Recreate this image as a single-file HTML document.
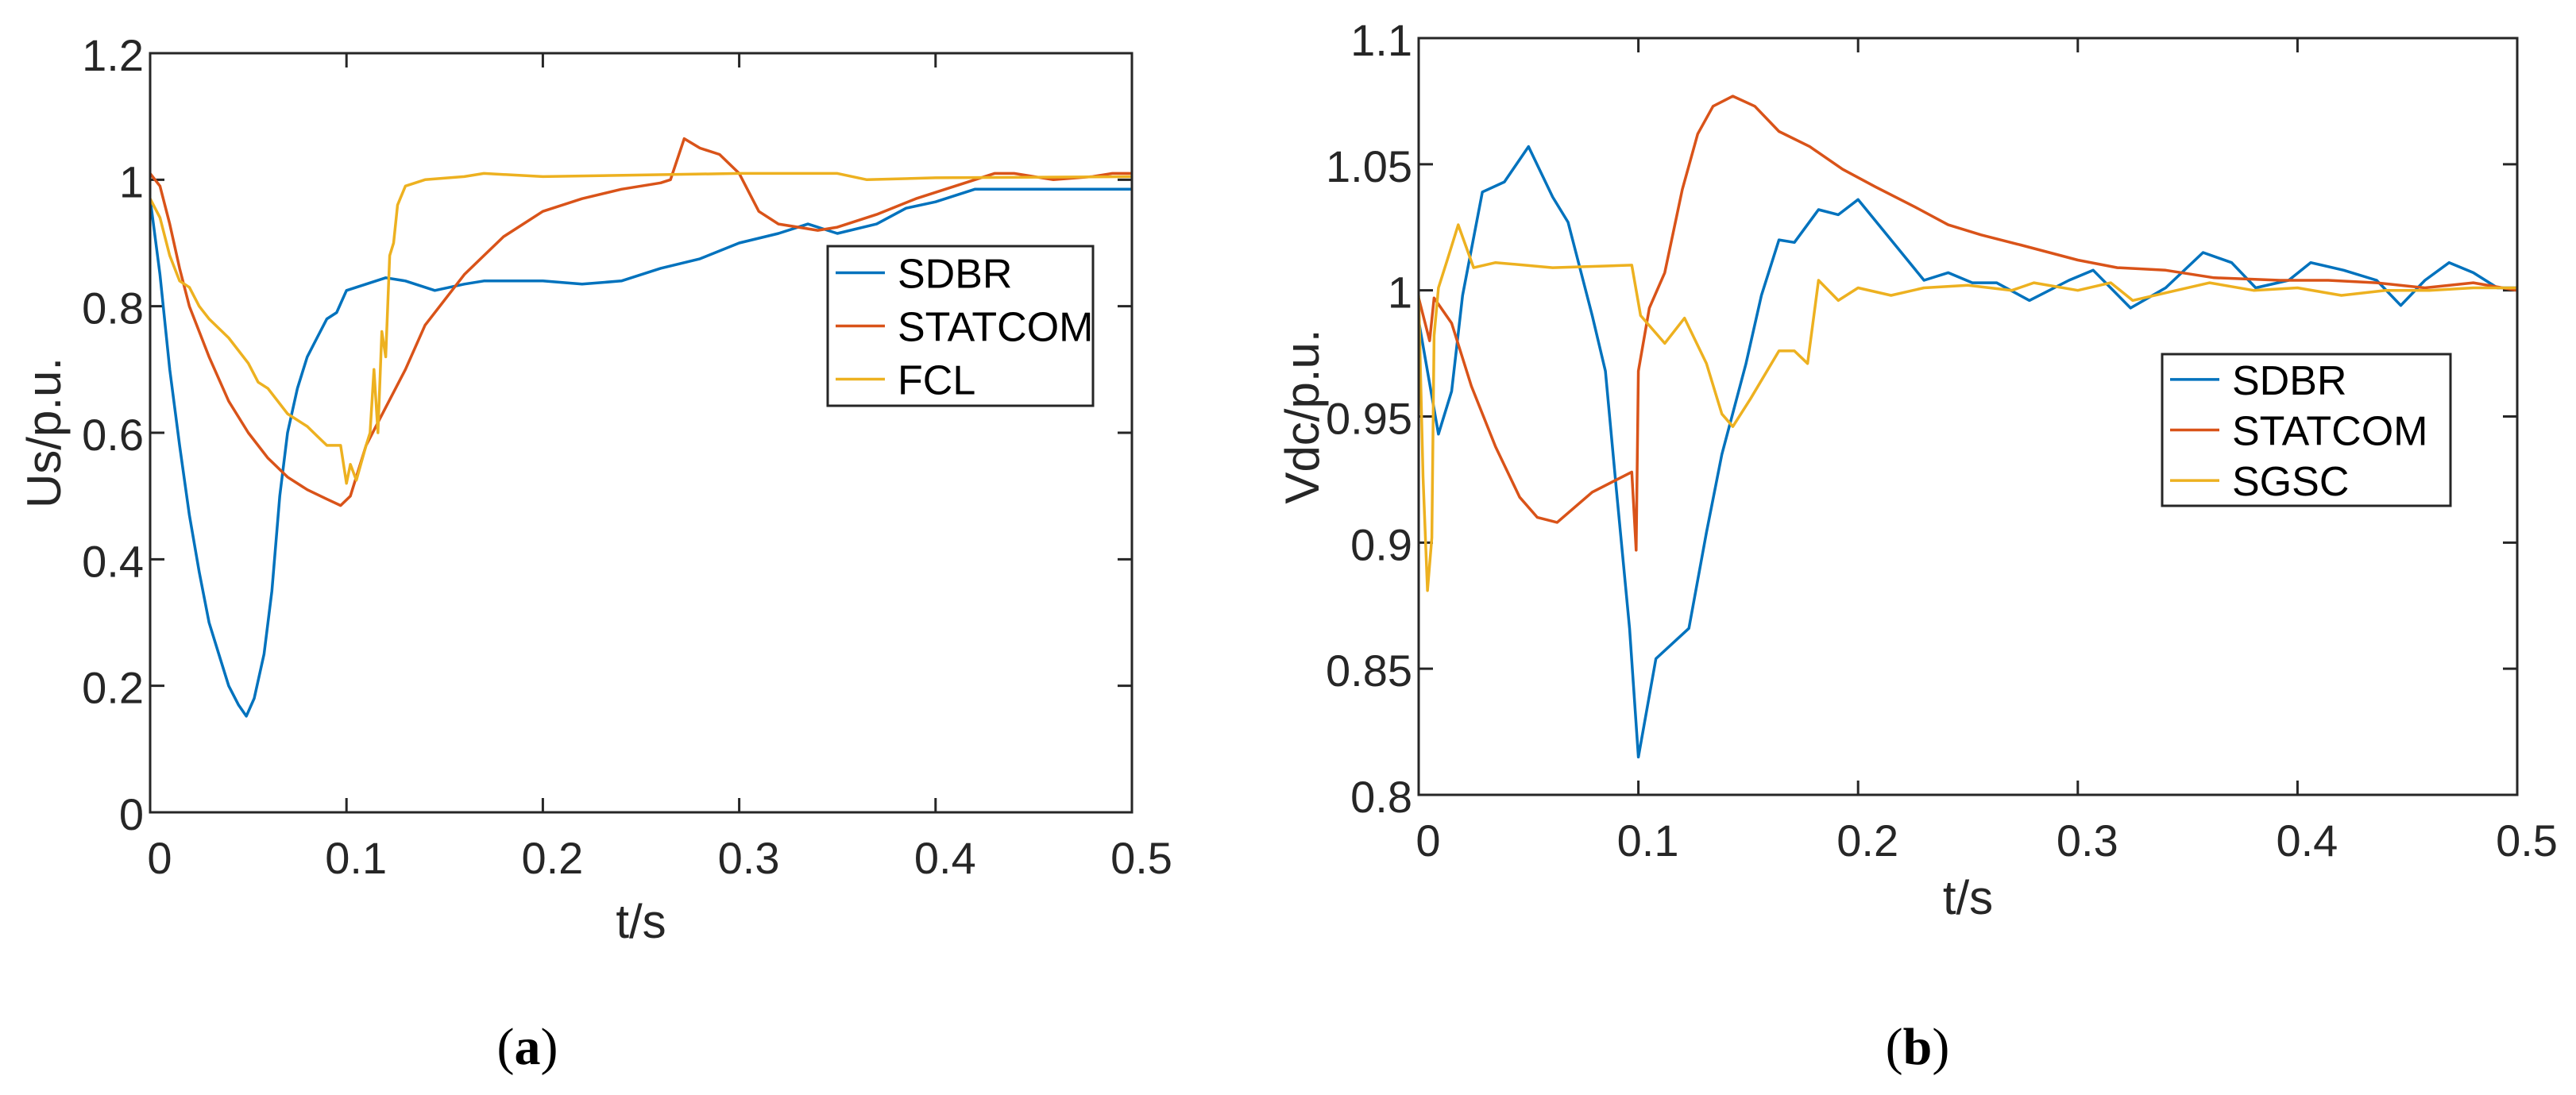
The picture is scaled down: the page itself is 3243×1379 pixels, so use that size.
<!DOCTYPE html>
<html><head><meta charset="utf-8"><style>
html,body{margin:0;padding:0;background:#fff;}
svg{display:block;font-family:"Liberation Sans",Arial,sans-serif;}
</style></head><body>
<svg id="fig" width="3243" height="1379" viewBox="0 0 3243 1379">
<rect width="3243" height="1379" fill="#fff"/>
<g id="pa"></g>
<g id="pb"></g>
<text x="664" y="1340" font-family="Liberation Serif,serif" font-size="66" text-anchor="middle">(<tspan font-weight="bold">a</tspan>)</text>
<text x="2414" y="1340" font-family="Liberation Serif,serif" font-size="66" text-anchor="middle">(<tspan font-weight="bold">b</tspan>)</text>
</svg>
<script>
const colors=["#0072BD","#D95319","#EDB120"];
// Panel a data
const aXTicks=[0,0.1,0.2,0.3,0.4,0.5];
const aYTicks=[0,0.2,0.4,0.6,0.8,1,1.2];
const aYTickLabels=["0","0.2","0.4","0.6","0.8","1","1.2"];
const aNames=["SDBR","STATCOM","FCL"];
const aSdbrT=[0,0.005,0.01,0.015,0.02,0.025,0.03,0.035,0.04,0.045,0.049,0.053,0.058,0.062,0.066,0.07,0.075,0.08,0.085,0.09,0.095,0.1,0.11,0.12,0.13,0.14,0.145,0.16,0.17,0.2,0.22,0.24,0.26,0.28,0.3,0.32,0.335,0.35,0.37,0.385,0.4,0.42,0.45,0.5];
const aSdbrV=[0.97,0.85,0.7,0.58,0.47,0.38,0.3,0.25,0.2,0.17,0.152,0.18,0.25,0.35,0.5,0.6,0.67,0.72,0.75,0.78,0.79,0.825,0.835,0.845,0.84,0.83,0.825,0.835,0.84,0.84,0.835,0.84,0.86,0.875,0.9,0.915,0.93,0.915,0.93,0.955,0.965,0.985,0.985,0.985];
const aStatT=[0,0.005,0.01,0.015,0.02,0.03,0.04,0.05,0.06,0.07,0.08,0.09,0.097,0.102,0.11,0.12,0.13,0.14,0.15,0.16,0.17,0.18,0.19,0.2,0.22,0.24,0.26,0.265,0.272,0.28,0.29,0.3,0.31,0.32,0.34,0.35,0.37,0.39,0.41,0.43,0.44,0.46,0.48,0.49,0.5];
const aStatV=[1.01,0.99,0.93,0.86,0.8,0.72,0.65,0.6,0.56,0.53,0.51,0.495,0.485,0.5,0.58,0.64,0.7,0.77,0.81,0.85,0.88,0.91,0.93,0.95,0.97,0.985,0.995,1.0,1.065,1.05,1.04,1.01,0.95,0.93,0.92,0.925,0.945,0.97,0.99,1.01,1.01,1.0,1.005,1.01,1.01];
const aFclT=[0,0.005,0.01,0.015,0.02,0.025,0.03,0.04,0.05,0.055,0.06,0.065,0.07,0.08,0.085,0.09,0.097,0.1,0.102,0.105,0.11,0.112,0.114,0.116,0.118,0.12,0.122,0.124,0.126,0.13,0.14,0.16,0.17,0.2,0.3,0.35,0.365,0.4,0.5];
const aFclV=[0.97,0.94,0.88,0.84,0.83,0.8,0.78,0.75,0.71,0.68,0.67,0.65,0.63,0.61,0.595,0.58,0.58,0.52,0.55,0.525,0.58,0.6,0.7,0.6,0.76,0.72,0.88,0.9,0.96,0.99,1.0,1.005,1.01,1.005,1.01,1.01,1.0,1.003,1.005];
// Panel b data
const bXTicks=[0,0.1,0.2,0.3,0.4,0.5];
const bYTicks=[0.8,0.85,0.9,0.95,1,1.05,1.1];
const bYTickLabels=["0.8","0.85","0.9","0.95","1","1.05","1.1"];
const bNames=["SDBR","STATCOM","SGSC"];
const bSdbrT=[0,0.009,0.015,0.02,0.029,0.039,0.05,0.061,0.068,0.079,0.085,0.09,0.096,0.1,0.108,0.123,0.131,0.138,0.149,0.156,0.164,0.171,0.182,0.191,0.2,0.215,0.23,0.241,0.252,0.263,0.278,0.296,0.307,0.324,0.34,0.357,0.37,0.381,0.396,0.406,0.421,0.436,0.447,0.458,0.469,0.48,0.491,0.5];
const bSdbrV=[0.988,0.943,0.96,0.998,1.039,1.043,1.057,1.037,1.027,0.99,0.968,0.921,0.866,0.815,0.854,0.866,0.904,0.935,0.971,0.998,1.02,1.019,1.032,1.03,1.036,1.02,1.004,1.007,1.003,1.003,0.996,1.004,1.008,0.993,1.001,1.015,1.011,1.001,1.004,1.011,1.008,1.004,0.994,1.004,1.011,1.007,1.001,1.001];
const bStatT=[0,0.005,0.007,0.015,0.024,0.035,0.046,0.054,0.063,0.079,0.097,0.099,0.1,0.105,0.112,0.12,0.127,0.134,0.143,0.153,0.164,0.178,0.193,0.208,0.226,0.241,0.256,0.274,0.3,0.318,0.34,0.362,0.392,0.414,0.436,0.458,0.48,0.5];
const bStatV=[0.997,0.98,0.997,0.987,0.962,0.938,0.918,0.91,0.908,0.92,0.928,0.897,0.968,0.993,1.007,1.04,1.062,1.073,1.077,1.073,1.063,1.057,1.048,1.041,1.033,1.026,1.022,1.018,1.012,1.009,1.008,1.005,1.004,1.004,1.003,1.001,1.003,1.0];
const bSgscT=[0,0.002,0.004,0.006,0.007,0.009,0.013,0.018,0.025,0.035,0.061,0.097,0.101,0.112,0.121,0.131,0.138,0.143,0.151,0.164,0.171,0.177,0.182,0.191,0.2,0.215,0.23,0.25,0.27,0.28,0.3,0.315,0.325,0.34,0.36,0.38,0.4,0.42,0.44,0.46,0.48,0.5];
const bSgscV=[0.998,0.926,0.881,0.902,0.982,1.001,1.012,1.026,1.009,1.011,1.009,1.01,0.99,0.979,0.989,0.971,0.951,0.946,0.957,0.976,0.976,0.971,1.004,0.996,1.001,0.998,1.001,1.002,1.0,1.003,1.0,1.003,0.996,0.999,1.003,1.0,1.001,0.998,1.0,1.0,1.001,1.001];

const NS="http://www.w3.org/2000/svg";
function mk(parent,tag,attrs){const e=document.createElementNS(NS,tag);for(const k in attrs)e.setAttribute(k,attrs[k]);parent.appendChild(e);return e;}

function drawPanel(g,box,xd,yd,xTicks,yTicks,yLabels,series,names,yTitle,yTitleX,xTitleY,legend,prefix){
  const sx=v=>box.x0+(v-xd[0])/(xd[1]-xd[0])*(box.x1-box.x0);
  const sy=v=>box.y1-(v-yd[0])/(yd[1]-yd[0])*(box.y1-box.y0);
  const L=18;
  xTicks.forEach((t,i)=>{
    const x=sx(t);
    const a=mk(g,"line",{x1:x,x2:x,y1:box.y1,y2:box.y1-L,stroke:"#262626","stroke-width":3});
    
    
    const b=mk(g,"line",{x1:x,x2:x,y1:box.y0,y2:box.y0+L,stroke:"#262626","stroke-width":3});
    
    
    const tx=mk(g,"text",{x:x+12,y:box.y1+77,"font-size":56,"text-anchor":"middle",fill:"#262626"});
    tx.textContent=String(t);
    
    
  });
  yTicks.forEach((t,i)=>{
    const y=sy(t);
    const a=mk(g,"line",{x1:box.x0,x2:box.x0+L,y1:y,y2:y,stroke:"#262626","stroke-width":3});
    
    
    const b=mk(g,"line",{x1:box.x1,x2:box.x1-L,y1:y,y2:y,stroke:"#262626","stroke-width":3});
    
    
    const tx=mk(g,"text",{x:box.x0-8,y:y+22,"font-size":56,"text-anchor":"end",fill:"#262626"});
    tx.textContent=yLabels[i];
    
    
  });
  const clipId=prefix+"clip";
  const cp=mk(g,"clipPath",{id:clipId});
  mk(cp,"rect",{x:box.x0,y:box.y0,width:box.x1-box.x0,height:box.y1-box.y0});
  series.forEach((s,i)=>{
    const d=s[0].map((t,j)=>(j?"L":"M")+sx(t).toFixed(1)+","+sy(s[1][j]).toFixed(1)).join("");
    const p=mk(g,"path",{d:d,fill:"none",stroke:colors[i],"stroke-width":3.5,"stroke-linejoin":"round","clip-path":"url(#"+clipId+")"});
    
    
  });
  const fr=mk(g,"rect",{x:box.x0,y:box.y0,width:box.x1-box.x0,height:box.y1-box.y0,fill:"none",stroke:"#262626","stroke-width":3});
  
  
  const xt=mk(g,"text",{x:(box.x0+box.x1)/2,y:xTitleY,"font-size":60,"text-anchor":"middle",fill:"#262626"});
  xt.textContent="t/s";
  
  
  const ycy=(box.y0+box.y1)/2;
  const yt=mk(g,"text",{x:yTitleX,y:ycy,"font-size":60,"text-anchor":"middle",fill:"#262626",transform:"rotate(-90 "+yTitleX+" "+ycy+")"});
  yt.textContent=yTitle;
  
  
  const lg=mk(g,"g",{});
  
  
  mk(lg,"rect",{x:legend.x,y:legend.y,width:legend.w,height:legend.h,fill:"#fff",stroke:"#262626","stroke-width":3});
  const step=legend.h/3;
  names.forEach((n,i)=>{
    const cy=legend.y+step*(i+0.5);
    const ln=mk(lg,"line",{x1:legend.x+10,x2:legend.x+72,y1:cy,y2:cy,stroke:colors[i],"stroke-width":3.5});
    
    
    const t=mk(lg,"text",{x:legend.x+88,y:cy+19,"font-size":52,fill:"#000"});
    t.textContent=n;
    
    
  });
}
drawPanel(document.getElementById("pa"),{x0:189,x1:1425,y0:67,y1:1023},[0,0.5],[0,1.2],aXTicks,aYTicks,aYTickLabels,
  [[aSdbrT,aSdbrV],[aStatT,aStatV],[aFclT,aFclV]],aNames,"Us/p.u.",76,1181,{x:1042,y:310,w:334,h:201},"a");
drawPanel(document.getElementById("pb"),{x0:1786,x1:3169,y0:48,y1:1001},[0,0.5],[0.8,1.1],bXTicks,bYTicks,bYTickLabels,
  [[bSdbrT,bSdbrV],[bStatT,bStatV],[bSgscT,bSgscV]],bNames,"Vdc/p.u.",1660,1151,{x:2722,y:446,w:363,h:191},"b");
</script>
</body></html>
